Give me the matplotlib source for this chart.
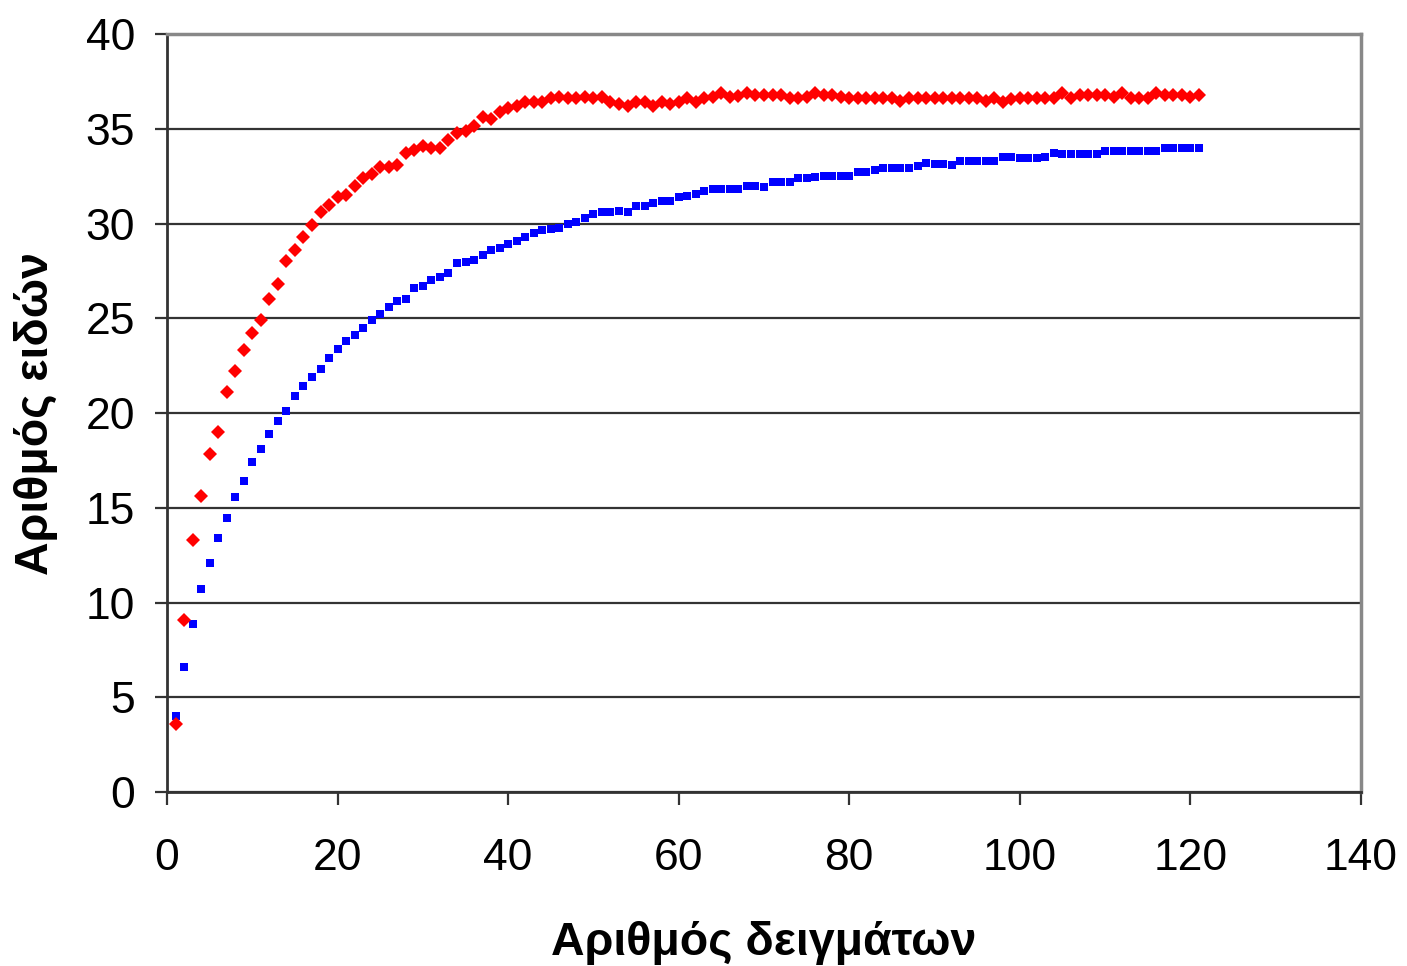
import numpy as np
import matplotlib as mpl
mpl.use('Agg')
import matplotlib.pyplot as plt

# number of samples (x) and species counts for the two curves
samples = list(range(1, 122))

red_species = [
    3.6, 9.1, 13.3, 15.6, 17.85, 19.0, 21.1, 22.2, 23.3, 24.2,
    24.9, 26.0, 26.8, 28.0, 28.6, 29.3, 29.9, 30.6, 31.0, 31.4,
    31.5, 32.0, 32.4, 32.6, 33.0, 33.0, 33.1, 33.7, 33.9, 34.1,
    34.0, 34.0, 34.4, 34.8, 34.9, 35.15, 35.6, 35.5, 35.9, 36.1,
    36.2, 36.4, 36.4, 36.4, 36.6, 36.7, 36.6, 36.6, 36.7, 36.6,
    36.7, 36.4, 36.3, 36.2, 36.4, 36.4, 36.2, 36.4, 36.3, 36.4,
    36.6, 36.4, 36.6, 36.7, 36.9, 36.7, 36.75, 36.9, 36.8, 36.8,
    36.8, 36.8, 36.6, 36.6, 36.7, 36.9, 36.8, 36.8, 36.7, 36.6,
    36.6, 36.6, 36.6, 36.6, 36.6, 36.45, 36.6, 36.6, 36.6, 36.6,
    36.6, 36.6, 36.6, 36.6, 36.6, 36.45, 36.6, 36.4, 36.55, 36.6,
    36.6, 36.6, 36.6, 36.6, 36.9, 36.6, 36.8, 36.8, 36.8, 36.8,
    36.7, 36.9, 36.6, 36.6, 36.6, 36.9, 36.8, 36.8, 36.8, 36.7,
    36.8,
]

blue_species = [
    4.0, 6.6, 8.85, 10.7, 12.1, 13.4, 14.45, 15.55, 16.4, 17.4,
    18.1, 18.9, 19.6, 20.1, 20.9, 21.4, 21.9, 22.3, 22.9, 23.4,
    23.8, 24.1, 24.5, 24.9, 25.2, 25.6, 25.9, 26.0, 26.6, 26.7,
    27.0, 27.2, 27.4, 27.9, 27.95, 28.1, 28.35, 28.6, 28.7, 28.9,
    29.1, 29.3, 29.5, 29.65, 29.7, 29.75, 30.0, 30.1, 30.3, 30.5,
    30.6, 30.6, 30.65, 30.6, 30.9, 30.9, 31.1, 31.2, 31.2, 31.4,
    31.45, 31.55, 31.7, 31.8, 31.8, 31.8, 31.8, 32.0, 32.0, 31.95,
    32.2, 32.2, 32.2, 32.4, 32.4, 32.45, 32.5, 32.5, 32.5, 32.5,
    32.7, 32.7, 32.8, 32.95, 32.95, 32.95, 32.95, 33.05, 33.2, 33.15,
    33.15, 33.1, 33.3, 33.3, 33.3, 33.3, 33.3, 33.5, 33.5, 33.45,
    33.45, 33.45, 33.5, 33.7, 33.66, 33.66, 33.65, 33.65, 33.66, 33.83,
    33.83, 33.83, 33.83, 33.83, 33.83, 33.83, 33.97, 33.97, 33.97, 33.97,
    33.97,
]

x_ticks = [0, 20, 40, 60, 80, 100, 120, 140]
y_ticks = [0, 5, 10, 15, 20, 25, 30, 35, 40]

if __name__ == "__main__":
    plt.rcParams['font.family'] = ['Liberation Sans', 'DejaVu Sans']

    fig = plt.figure(figsize=(14.07, 9.66), dpi=100)
    ax = fig.add_axes([0.1187, 0.1801, 0.8486, 0.7847])

    ax.plot(samples, blue_species, linestyle='none', marker='s', markersize=6,
            color='#0000ff', markeredgewidth=0, zorder=3)
    ax.plot(samples, red_species, linestyle='none', marker='D', markersize=6.8,
            color='#ff0000', markeredgewidth=0, zorder=4)

    ax.set_xlim(0, 140)
    ax.set_ylim(0, 40)
    ax.set_xticks(x_ticks)
    ax.set_yticks(y_ticks)
    ax.yaxis.grid(True, color='#333333', linewidth=1.6)
    ax.set_axisbelow(True)

    for side in ['left', 'bottom']:
        ax.spines[side].set_color('#333333')
        ax.spines[side].set_linewidth(2)
    for side in ['top', 'right']:
        ax.spines[side].set_color('#888888')
        ax.spines[side].set_linewidth(2.5)

    ax.tick_params(axis='both', direction='out', length=9, width=1.6,
                   color='#333333', labelsize=32)
    ax.tick_params(axis='y', pad=14)
    ax.tick_params(axis='x', pad=24)

    ax.set_xlabel("Αριθμός δειγμάτων", fontsize=33.5, fontweight='bold', labelpad=30)
    ax.set_ylabel("Αριθμός ειδών", fontsize=33.5, fontweight='bold', labelpad=20)

    plt.savefig("out.png", dpi=100)
